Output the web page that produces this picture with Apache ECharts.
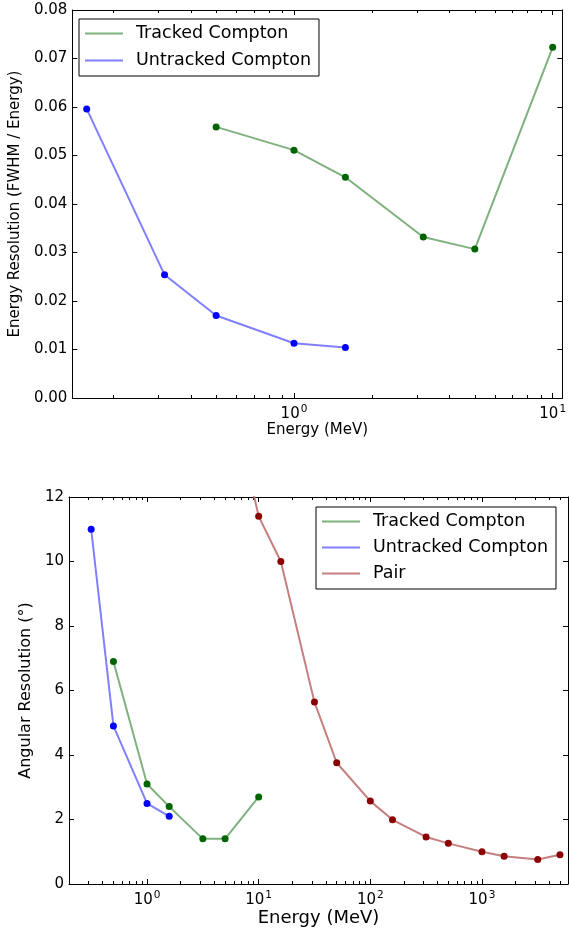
<!DOCTYPE html>
<html>
<head>
<meta charset="utf-8">
<script src="https://cdn.jsdelivr.net/npm/echarts@6/dist/echarts.min.js"></script>
<style>
html,body{margin:0;padding:0;background:#fff;}
#chart{width:569px;height:930px;}
</style>
</head>
<body>
<div id="chart"></div>
<script>
//上图：能量分辨率
var eTopTracked=[0.5,1.0,1.58,3.16,5.0,10.0];
var resTopTracked=[0.0559,0.0511,0.0455,0.0332,0.0307,0.0723];
var eTopUntracked=[0.158,0.316,0.5,1.0,1.58];
var resTopUntracked=[0.0596,0.0254,0.0170,0.0113,0.0104];
var topXMajor=[1,10];
//下图：角分辨率
var eBotTracked=[0.5,1.0,1.58,3.16,5.0,10.0];
var angBotTracked=[6.9,3.1,2.4,1.4,1.4,2.7];
var eBotUntracked=[0.316,0.5,1.0,1.58];
var angBotUntracked=[11.0,4.9,2.5,2.1];
var ePair=[5.0,10,15.8,31.6,50,100,158,316,500,1000,1580,3160,5000];
var angPair=[16.0,11.4,10.0,5.64,3.76,2.57,1.99,1.46,1.26,1.0,0.86,0.76,0.91];
var botXMajor=[1,10,100,1000];

var FONT="DejaVu Sans";
var cTracked={line:"#7fb17f",dot:"#006400"};
var cUntracked={line:"#8080ff",dot:"#0000ff"};
var cPair={line:"#c57f7f",dot:"#8b0000"};

//对数轴次刻度 2..9 x 10^k
function minorTicks(lo,hi){
    var out=[];
    for(var k=-2;k<5;k++){
        for(var m=2;m<10;m++){
            var v=m*Math.pow(10,k);
            if(v>=lo&&v<=hi) out.push(v);
        }
    }
    return out;
}
function pairs(xs,ys){
    var d=[];
    for(var i=0;i<xs.length;i++) d.push([xs[i],ys[i]]);
    return d;
}
//一个网格的四条x轴：下主/下次/上主/上次
function xAxes(grid,min,max,majors,name,nameSize,nameGap){
    var minors=minorTicks(min,max);
    var list=[];
    var sides=["bottom","top"];
    for(var s=0;s<2;s++){
        for(var j=0;j<2;j++){
            var isMajor=(j==0);
            var ax={
                type:"log",logBase:10,gridIndex:grid,min:min,max:max,position:sides[s],
                axisLine:{show:isMajor,onZero:false,lineStyle:{color:"#000",width:1}},
                axisTick:{show:true,inside:true,length:isMajor?5:3,customValues:isMajor?majors:minors,lineStyle:{color:"#000",width:1}},
                axisLabel:{show:false},
                splitLine:{show:false},minorTick:{show:false},minorSplitLine:{show:false}
            };
            if(s==0&&isMajor){
                ax.axisLabel={
                    show:true,customValues:majors,margin:6,
                    formatter:function(v){
                        return "{b|10}{s|"+Math.round(Math.log10(v))+"}";
                    },
                    rich:{
                        b:{fontFamily:FONT,fontSize:15,color:"#000"},
                        s:{fontFamily:FONT,fontSize:10.5,color:"#000",padding:[0,0,9,1]}
                    }
                };
                ax.name=name;
                ax.nameLocation="middle";
                ax.nameGap=nameGap;
                ax.nameTextStyle={fontFamily:FONT,fontSize:nameSize,color:"#000"};
            }
            list.push(ax);
        }
    }
    return list;
}
function yAxes(grid,max,interval,digits,name,nameSize,nameGap){
    var base={
        type:"value",gridIndex:grid,min:0,max:max,interval:interval,
        axisLine:{show:true,onZero:false,lineStyle:{color:"#000",width:1}},
        axisTick:{show:true,inside:true,length:5,lineStyle:{color:"#000"}},
        splitLine:{show:false}
    };
    var left=echarts.util.merge({
        position:"left",
        axisLabel:{margin:5,fontFamily:FONT,fontSize:15,color:"#000",
            formatter:function(v){return v.toFixed(digits);}},
        name:name,nameLocation:"middle",nameGap:nameGap,
        nameTextStyle:{fontFamily:FONT,fontSize:nameSize,color:"#000"}
    },base);
    var right=echarts.util.merge({position:"right",axisLabel:{show:false}},base);
    return [left,right];
}
function lineSeries(name,x,y,xi,yi,c){
    return {name:name,type:"line",xAxisIndex:xi,yAxisIndex:yi,data:pairs(x,y),
        symbol:"none",lineStyle:{color:c.line,width:2},itemStyle:{color:c.line},z:2};
}
function dotSeries(x,y,xi,yi,c){
    return {type:"scatter",xAxisIndex:xi,yAxisIndex:yi,data:pairs(x,y),
        symbol:"circle",symbolSize:7,itemStyle:{color:c.dot,opacity:1},z:3,clip:true};
}

var xs=xAxes(0,0.139,10.9,topXMajor,"Energy (MeV)",15,23)
    .concat(xAxes(1,0.2,5900,botXMajor,"Energy (MeV)",18,25));
var ys=yAxes(0,0.08,0.01,2,"Energy Resolution (FWHM / Energy)",15,46)
    .concat(yAxes(1,12,2,0,"Angular Resolution (\u00b0)",16,30));

var legendText={fontFamily:FONT,fontSize:17.5,color:"#000",padding:[0,0,0,8],lineHeight:21};
var option={
    animation:false,
    backgroundColor:"#fff",
    grid:[
        {left:69,top:10,right:1,height:388},
        {left:69,top:497,right:1,height:387}
    ],
    xAxis:xs,
    yAxis:ys,
    legend:[
        {left:79,top:19,orient:"vertical",icon:"rect",itemWidth:38,itemHeight:2,itemGap:6,
         padding:[4,8,5,6],borderColor:"#000",borderWidth:1,borderRadius:0,
         textStyle:legendText,data:["Tracked Compton","Untracked Compton"]},
        {left:316,top:507,orient:"vertical",icon:"rect",itemWidth:38,itemHeight:2,itemGap:5,
         padding:[4,8,5,6],borderColor:"#000",borderWidth:1,borderRadius:0,
         textStyle:legendText,data:["Tracked Compton","Untracked Compton","Pair"]}
    ],
    series:[
        lineSeries("Tracked Compton",eTopTracked,resTopTracked,0,0,cTracked),
        dotSeries(eTopTracked,resTopTracked,0,0,cTracked),
        lineSeries("Untracked Compton",eTopUntracked,resTopUntracked,0,0,cUntracked),
        dotSeries(eTopUntracked,resTopUntracked,0,0,cUntracked),
        lineSeries("Tracked Compton",eBotTracked,angBotTracked,4,2,cTracked),
        dotSeries(eBotTracked,angBotTracked,4,2,cTracked),
        lineSeries("Untracked Compton",eBotUntracked,angBotUntracked,4,2,cUntracked),
        dotSeries(eBotUntracked,angBotUntracked,4,2,cUntracked),
        lineSeries("Pair",ePair,angPair,4,2,cPair),
        dotSeries(ePair,angPair,4,2,cPair)
    ]
};
var myChart=echarts.init(document.getElementById("chart"));
myChart.setOption(option);
</script>
</body>
</html>
